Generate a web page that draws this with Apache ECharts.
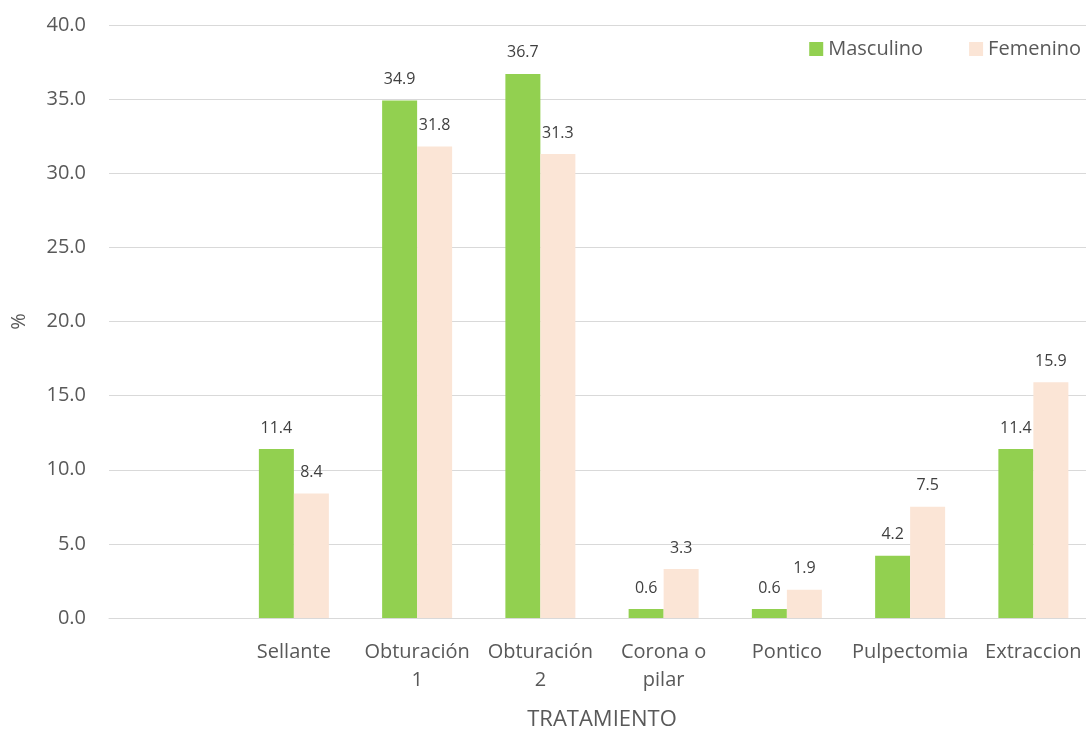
<!DOCTYPE html>
<html>
<head>
<meta charset="utf-8">
<style>
  html, body { margin: 0; padding: 0; background: #fff; }
  #chart { width: 1086px; height: 729px; }
</style>
<script src="https://cdn.jsdelivr.net/npm/echarts@6/dist/echarts.min.js"></script>
</head>
<body>
<div id="chart"></div>
<script>
// Treatment categories (the first slot is intentionally left blank)
const categories = ['', 'Sellante', 'Obturación\n1', 'Obturación\n2', 'Corona o\npilar', 'Pontico', 'Pulpectomia', 'Extraccion'];
// Percentages by sex
const masculino = [null, 11.4, 34.9, 36.7, 0.6, 0.6, 4.2, 11.4];
const femenino  = [null, 8.4, 31.8, 31.3, 3.3, 1.9, 7.5, 15.9];
// Value axis range
const yMin = 0, yMax = 40, yStep = 5;

const FONT = '"Open Sans", "Liberation Sans", sans-serif';
const TXT = '#595959';

const chart = echarts.init(document.getElementById('chart'), null, { renderer: 'canvas' });

function barLabel() {
  return {
    show: true,
    position: 'top',
    distance: 13,
    color: '#404040',
    fontFamily: FONT,
    fontSize: 16,
    formatter: p => p.value == null ? '' : p.value.toFixed(1)
  };
}

chart.setOption({
  animation: false,
  textStyle: { fontFamily: FONT },
  legend: {
    top: 34,
    right: 0,
    itemWidth: 14,
    itemHeight: 14,
    itemGap: 46,
    icon: 'rect',
    textStyle: { color: TXT, fontSize: 20, fontFamily: FONT },
    data: ['Masculino', 'Femenino']
  },
  grid: { left: 109, top: 25, width: 986, bottom: 111, containLabel: false, outerBoundsMode: 'none' },
  xAxis: {
    type: 'category',
    data: categories,
    name: 'TRATAMIENTO',
    nameLocation: 'middle',
    nameGap: 91,
    nameTextStyle: { color: TXT, fontSize: 22, fontFamily: FONT },
    axisLine: { lineStyle: { color: '#d9d9d9', width: 1 } },
    axisTick: { show: false },
    axisLabel: { color: TXT, fontSize: 20, fontFamily: FONT, margin: 20, lineHeight: 28, interval: 0 }
  },
  yAxis: {
    type: 'value',
    min: yMin,
    max: yMax,
    interval: yStep,
    name: '%',
    nameLocation: 'middle',
    nameGap: 80,
    nameRotate: 90,
    nameTextStyle: { color: TXT, fontSize: 20, fontFamily: FONT },
    axisLine: { show: false },
    axisTick: { show: false },
    axisLabel: { color: TXT, fontSize: 20, fontFamily: FONT, margin: 23, formatter: v => v.toFixed(1) },
    splitLine: { lineStyle: { color: '#d9d9d9', width: 1 } }
  },
  series: [
    {
      name: 'Masculino',
      type: 'bar',
      data: masculino,
      barWidth: 35,
      barGap: '0%',
      itemStyle: { color: '#92D050' },
      label: barLabel()
    },
    {
      name: 'Femenino',
      type: 'bar',
      data: femenino,
      barWidth: 35,
      barGap: '0%',
      itemStyle: { color: '#FBE5D6' },
      label: barLabel()
    }
  ]
});
</script>
</body>
</html>
